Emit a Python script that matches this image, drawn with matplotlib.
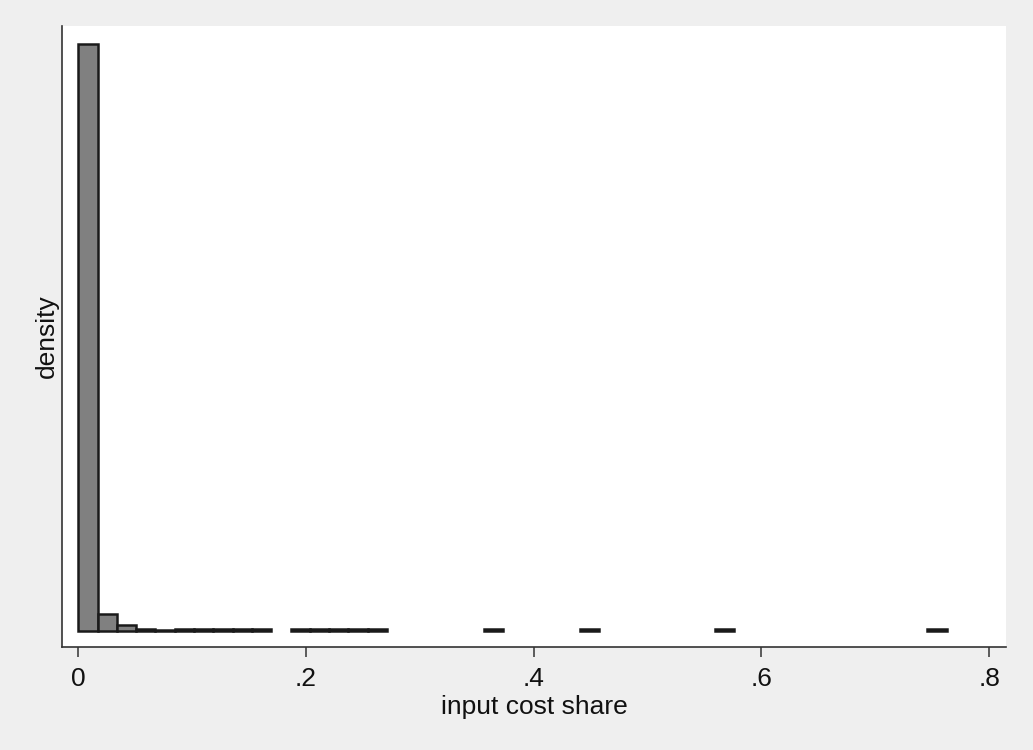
import matplotlib
matplotlib.use("Agg")
import matplotlib.pyplot as plt
import numpy as np

# Histogram data (density per bin), bins of equal width starting at 0
bin_width = 0.01695
bin_index = [0, 1, 2, 3, 4, 5, 6, 7, 8, 9,
             11, 12, 13, 14, 15, 21, 26, 33, 44]
density = [56.0, 1.62, 0.52, 0.19, 0.05, 0.11, 0.11, 0.11, 0.11, 0.11,
           0.11, 0.11, 0.11, 0.11, 0.11, 0.13, 0.13, 0.13, 0.13]

xticks = [0, 0.2, 0.4, 0.6, 0.8]
xticklabels = ["0", ".2", ".4", ".6", ".8"]
xlabel = "input cost share"
ylabel = "density"

plt.rcParams['font.family'] = ['Liberation Sans', 'DejaVu Sans']

W, H = 1033, 750
fig = plt.figure(figsize=(W / 100, H / 100), dpi=100)
fig.patch.set_facecolor('#efefef')

left, right, top, bottom = 62, 1006, 25.7, 647
ax = fig.add_axes([left / W, 1 - bottom / H, (right - left) / W, (bottom - top) / H])
ax.set_facecolor('white')

lefts = [i * bin_width for i in bin_index]
ax.bar(lefts, density, width=bin_width, align='edge',
       color='#808080', edgecolor='#1a1a1a', linewidth=1.8, zorder=3)

ymax = max(density)
ax.set_ylim(-0.0281 * ymax, 1.0305 * ymax)
ax.set_xlim(-0.01432, 0.8148)

ax.set_xticks(xticks)
ax.set_xticklabels(xticklabels)
ax.set_yticks([])
ax.tick_params(axis='x', length=7.2, width=1.1, color='#333333',
               labelsize=19, pad=7, labelcolor='#111111')

for s in ['top', 'right']:
    ax.spines[s].set_visible(False)
for s in ['left', 'bottom']:
    ax.spines[s].set_color('#333333')
    ax.spines[s].set_linewidth(1.2)

ax.set_xlabel(xlabel, fontsize=19, color='#111111', labelpad=3)
ax.set_ylabel(ylabel, fontsize=19, color='#111111', labelpad=2)

fig.savefig('out.png', dpi=100, facecolor=fig.get_facecolor())
